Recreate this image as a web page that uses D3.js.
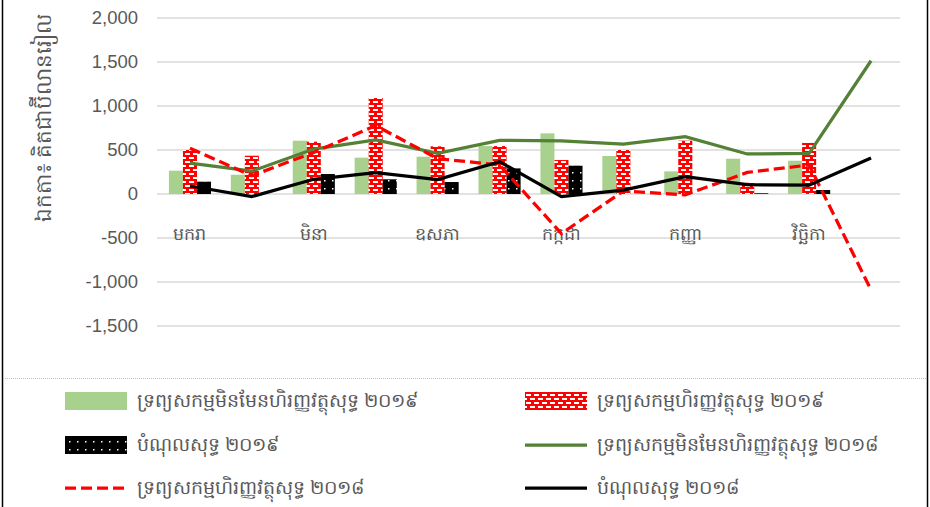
<!DOCTYPE html>
<html>
<head>
<meta charset="utf-8">
<script src="https://cdnjs.cloudflare.com/ajax/libs/d3/7.8.5/d3.min.js"></script>
<style>
  body { margin: 0; background: #fff; }
  svg text { font-family: "Liberation Sans", "Noto Sans", sans-serif; fill: #595959; }
</style>
</head>
<body>
<svg width="930" height="507"></svg>
<script>
// months, jan..dec
var months = ['មករា', 'កុម្ភៈ', 'មិនា', 'មេសា', 'ឧសភា', 'មិថុនា', 'កក្កដា', 'សីហា', 'កញ្ញា', 'តុលា', 'វិច្ឆិកា', 'ធ្នូ'];

// bars, 2019
var nonFin2019 = [265, 219, 606, 413, 424, 545, 689, 432, 257, 401, 378, null];
var fin2019 = [500, 435, 595, 1091, 542, 545, 386, 500, 606, 128, 580, null];
var net2019 = [140, 0, 227, 167, 136, 291, 322, 0, 0, 8, 45, null];

// lines, 2018
var nonFin2018 = [352, 260, 511, 614, 462, 610, 605, 568, 651, 455, 461, 1514];
var fin2018 = [519, 208, 473, 777, 402, 330, -450, 35, -10, 245, 330, -1090];
var net2018 = [91, -29, 167, 242, 163, 367, -30, 45, 197, 106, 100, 409];

var yTicks = [-1500, -1000, -500, 0, 500, 1000, 1500, 2000];
var yTitle = 'ឯកតា៖ គិតជាប៊ីលានរៀល';

var names = {
  nonFin2019: 'ទ្រព្យសកម្មមិនមែនហិរញ្ញវត្ថុសុទ្ធ ២០១៩',
  fin2019: 'ទ្រព្យសកម្មហិរញ្ញវត្ថុសុទ្ធ ២០១៩',
  net2019: 'បំណុលសុទ្ធ ២០១៩',
  nonFin2018: 'ទ្រព្យសកម្មមិនមែនហិរញ្ញវត្ថុសុទ្ធ ២០១៨',
  fin2018: 'ទ្រព្យសកម្មហិរញ្ញវត្ថុសុទ្ធ ២០១៨',
  net2018: 'បំណុលសុទ្ធ ២០១៨'
};

const svg = d3.select('svg');

// patterns for the bars
const defs = svg.append('defs');
const brick = defs.append('pattern')
  .attr('id', 'brick').attr('patternUnits', 'userSpaceOnUse')
  .attr('width', 8).attr('height', 8);
brick.append('rect').attr('width', 8).attr('height', 8).attr('fill', '#ff0000');
brick.append('rect').attr('x', 1).attr('y', 1).attr('width', 5).attr('height', 2).attr('fill', '#fff');
brick.append('rect').attr('x', -3).attr('y', 5).attr('width', 5).attr('height', 2).attr('fill', '#fff');
brick.append('rect').attr('x', 5).attr('y', 5).attr('width', 5).attr('height', 2).attr('fill', '#fff');

const dots = defs.append('pattern')
  .attr('id', 'dots').attr('patternUnits', 'userSpaceOnUse')
  .attr('width', 8).attr('height', 8);
dots.append('rect').attr('width', 8).attr('height', 8).attr('fill', '#000');
dots.append('rect').attr('x', 4).attr('y', 4).attr('width', 1.5).attr('height', 1.5).attr('fill', '#fff');

// chart frame
svg.append('line').attr('x1', 2.5).attr('x2', 2.5).attr('y1', 0).attr('y2', 507)
  .attr('stroke', '#000').attr('stroke-width', 1.5);
svg.append('line').attr('x1', 927.5).attr('x2', 927.5).attr('y1', 0).attr('y2', 507)
  .attr('stroke', '#000').attr('stroke-width', 1.5);
svg.append('line').attr('x1', 3).attr('x2', 927).attr('y1', 378.5).attr('y2', 378.5)
  .attr('stroke', '#bfbfbf').attr('stroke-width', 1).attr('stroke-dasharray', '1,1');

const x = d3.scaleBand().domain(d3.range(12)).range([159, 902])
  .paddingInner(0.32).paddingOuter(0.16);
const series = ['nonFin2019', 'fin2019', 'net2019'];
const xs = d3.scaleBand().domain(series).range([0, x.bandwidth()]);
const y = d3.scaleLinear().domain([-1500, 2000]).range([326, 18]);

// grid
svg.append('g').selectAll('line').data(yTicks).join('line')
  .attr('x1', 157).attr('x2', 900)
  .attr('y1', d => y(d)).attr('y2', d => y(d))
  .attr('stroke', '#d9d9d9').attr('stroke-width', 1.5);

// y axis labels
const yAxis = svg.append('g').attr('transform', 'translate(138,0)')
  .call(d3.axisLeft(y).tickValues(yTicks).tickSize(0).tickPadding(0)
    .tickFormat(d => d3.format(',')(d).replace('\u2212', '-')));
yAxis.select('.domain').remove();
yAxis.selectAll('text').style('font-size', '18.5px').attr('fill', '#595959')
  .style('font-family', '"Liberation Sans", sans-serif');

svg.append('text')
  .attr('transform', 'translate(51,118) rotate(-90)')
  .attr('text-anchor', 'middle')
  .style('font-size', '21.5px')
  .text(yTitle);

// x labels, every second month
svg.append('g').selectAll('text').data(d3.range(0, 12, 2)).join('text')
  .attr('x', d => x(d) + x.bandwidth() / 2)
  .attr('y', 240)
  .attr('text-anchor', 'middle')
  .style('font-size', '17.5px')
  .text(d => months[d]);

// bars
var fills = { nonFin2019: '#a9d18e', fin2019: 'url(#brick)', net2019: 'url(#dots)' };
var barData = { nonFin2019: nonFin2019, fin2019: fin2019, net2019: net2019 };
series.forEach(function (s) {
  svg.append('g').selectAll('rect')
    .data(barData[s].map((v, i) => ({ i: i, v: v })).filter(d => d.v !== null))
    .join('rect')
    .attr('x', d => x(d.i) + xs(s))
    .attr('width', xs.bandwidth())
    .attr('y', d => y(Math.max(0, d.v)))
    .attr('height', d => Math.abs(y(d.v) - y(0)))
    .attr('fill', fills[s]);
});

// lines
const line = d3.line().x((d, i) => x(i) + x.bandwidth() / 2).y(d => y(d));
var lines = [
  { v: nonFin2018, c: '#538135', dash: null },
  { v: fin2018, c: '#ff0000', dash: '11,5' },
  { v: net2018, c: '#000000', dash: null }
];
lines.forEach(function (l) {
  svg.append('path').attr('d', line(l.v))
    .attr('fill', 'none').attr('stroke', l.c).attr('stroke-width', 3.25)
    .attr('stroke-dasharray', l.dash);
});

// legend
var legend = [
  { k: 'nonFin2019', type: 'bar', fill: '#a9d18e', col: 0, row: 0 },
  { k: 'fin2019', type: 'bar', fill: 'url(#brick)', col: 1, row: 0 },
  { k: 'net2019', type: 'bar', fill: 'url(#dots)', col: 0, row: 1 },
  { k: 'nonFin2018', type: 'line', c: '#538135', col: 1, row: 1 },
  { k: 'fin2018', type: 'line', c: '#ff0000', dash: '11,5', col: 0, row: 2 },
  { k: 'net2018', type: 'line', c: '#000000', col: 1, row: 2 }
];
var colX = [65, 525], rowY = [401, 445, 488];
const lg = svg.append('g').selectAll('g').data(legend).join('g')
  .attr('transform', d => 'translate(' + colX[d.col] + ',' + rowY[d.row] + ')');
lg.filter(d => d.type === 'bar').append('rect')
  .attr('x', 0).attr('y', -9).attr('width', 62).attr('height', 18)
  .attr('fill', d => d.fill);
lg.filter(d => d.type === 'line').append('line')
  .attr('x1', 0).attr('x2', 62).attr('y1', 0).attr('y2', 0)
  .attr('stroke', d => d.c).attr('stroke-width', 3.25)
  .attr('stroke-dasharray', d => d.dash || null);
lg.append('text').attr('x', 72).attr('y', 6)
  .style('font-size', '19px')
  .text(d => names[d.k]);
</script>
</body>
</html>
